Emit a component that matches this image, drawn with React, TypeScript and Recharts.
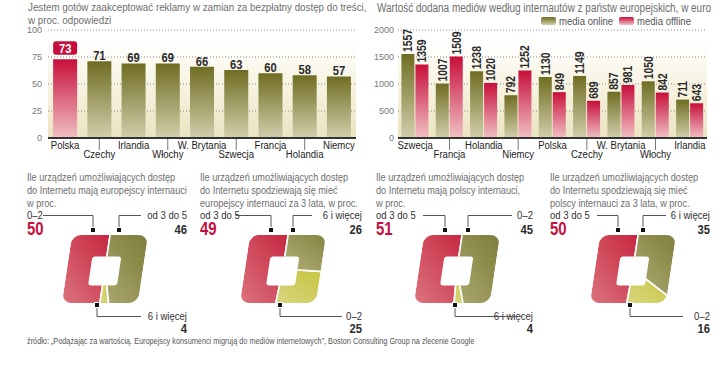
import React from 'react'
import {
  Bar,
  BarChart,
  CartesianGrid,
  Cell,
  LabelList,
  Legend,
  Pie,
  PieChart,
  XAxis,
  YAxis,
} from 'recharts'

const FONT = "'Liberation Sans', Arial, sans-serif"
const SX = 0.83 // zwężenie kroju (imitacja "narrow")

// --- dane: reklamy w zamian za darmowe treści ---
const adCountries = ['Polska', 'Czechy', 'Irlandia', 'Włochy', 'W. Brytania', 'Szwecja', 'Francja', 'Holandia', 'Niemcy']
const adValues = [73, 71, 69, 69, 66, 63, 60, 58, 57]
const pctTicks = [0, 25, 50, 75, 100]
const HIGHLIGHT = 'Polska'

// --- dane: wartość dodana mediów ---
const mediaCountries = ['Szwecja', 'Francja', 'Holandia', 'Niemcy', 'Polska', 'Czechy', 'W. Brytania', 'Włochy', 'Irlandia']
const mediaOnline = [1557, 1007, 1238, 792, 1130, 1149, 857, 1050, 711]
const mediaOffline = [1359, 1509, 1020, 1252, 849, 689, 981, 842, 643]
const euroTicks = [0, 500, 1000, 1500, 2000]
const seriesNames = ['media online', 'media offline']

// --- dane: urządzenia ---
const deviceTitles = [
  ['Ile urządzeń umożliwiających dostęp', 'do Internetu mają europejscy internauci', 'w proc.'],
  ['Ile urządzeń umożliwiających dostęp', 'do Internetu spodziewają się mieć', 'europejscy internauci za 3 lata, w proc.'],
  ['Ile urządzeń umożliwiających dostęp', 'do Internetu mają polscy internauci,', 'w proc.'],
  ['Ile urządzeń umożliwiających dostęp', 'do Internetu spodziewają się mieć', 'polscy internauci za 3 lata, w proc.'],
]
const deviceNames = [
  ['0–2', '6 i więcej', 'od 3 do 5'],
  ['od 3 do 5', '0–2', '6 i więcej'],
  ['od 3 do 5', '6 i więcej', '0–2'],
  ['od 3 do 5', '0–2', '6 i więcej'],
]
const deviceValues = [
  [50, 4, 46],
  [49, 25, 26],
  [51, 4, 45],
  [50, 16, 35],
]

const source =
  'źródło: „Podążając za wartością. Europejscy konsumenci migrują do mediów internetowych”, Boston Consulting Group na zlecenie Google'

// rozmieszczenie paneli (px)
const PANELS = [
  { left: 27, right: 187, cx: 100, mTL: 93, mTR: 119, mB: 97, l0: 43, r1: 141, b1: 141 },
  { left: 200, right: 362, cx: 278, mTL: 271, mTR: 293, mB: 280, l0: 236, r1: 312, b1: 342 },
  { left: 376, right: 533, cx: 452, mTL: 445, mTR: 468, mB: 455, l0: 423, r1: 512, b1: 522 },
  { left: 550, right: 710, cx: 628, mTL: 618, mTR: 643, mB: 630, l0: 597, r1: 666, b1: 683 },
]
const PIE_FILLS = ['url(#pieRed)', 'url(#pieYellow)', 'url(#pieOlive)']

const OUT_W = 76
const OUT_H = 68
const OUT_R = 9
const IN_W = 29
const IN_H = 29
const IN_R = 3
const SKEW = -8.5

function rr(cx: number, cy: number, w: number, h: number, r: number) {
  const x0 = cx - w / 2
  const y0 = cy - h / 2
  const x1 = cx + w / 2
  const y1 = cy + h / 2
  return `M${x0 + r},${y0}H${x1 - r}A${r},${r} 0 0 1 ${x1},${y0 + r}V${y1 - r}A${r},${r} 0 0 1 ${x1 - r},${y1}H${x0 + r}A${r},${r} 0 0 1 ${x0},${y1 - r}V${y0 + r}A${r},${r} 0 0 1 ${x0 + r},${y0}Z`
}

// wycinek "kwadratowego" pierścienia
function SquareSector(props: any) {
  const { cx, cy, startAngle, endAngle, fill } = props
  const id = `ring-${Math.round(cx)}-${Math.round(startAngle * 10)}`
  const R = 56
  const n = Math.max(2, Math.ceil(Math.abs(endAngle - startAngle) / 5))
  const pts = [`${cx},${cy}`]
  for (let i = 0; i <= n; i++) {
    const a = ((startAngle + ((endAngle - startAngle) * i) / n) * Math.PI) / 180
    pts.push(`${cx + R * Math.cos(a)},${cy - R * Math.sin(a)}`)
  }
  const ring = rr(cx, cy, OUT_W, OUT_H, OUT_R) + rr(cx, cy + 2, IN_W, IN_H, IN_R)
  return (
    <g transform={`translate(${cx} ${cy}) skewX(${SKEW}) translate(${-cx} ${-cy})`}>
      <defs>
        <clipPath id={id}>
          <path d={ring} clipRule="evenodd" />
        </clipPath>
      </defs>
      <g clipPath={`url(#${id})`}>
        <polygon points={pts.join(' ')} fill={fill} stroke="#fff" strokeWidth={1.6} strokeLinejoin="round" />
      </g>
    </g>
  )
}

// tekst SVG zwężony w poziomie
function NText({ x, y, rotate, children, ...rest }: any) {
  return (
    <text transform={`translate(${x} ${y})${rotate ? ` rotate(${rotate})` : ''} scale(${SX} 1)`} fontFamily={FONT} {...rest}>
      {children}
    </text>
  )
}

function AltTick(props: any) {
  const { x, y, payload } = props
  const low = payload.index % 2 === 1
  return (
    <g>
      {low && <line x1={x} x2={x} y1={y + 1} y2={y + 12} stroke="#777" strokeWidth={1} />}
      <NText x={x} y={y + (low ? 19.5 : 10.5)} textAnchor="middle" fontSize={11.5} fill="#222">
        {payload.value}
      </NText>
    </g>
  )
}

function AdLabel(props: any) {
  const { x, y, width, value, index } = props
  const cx = x + width / 2
  if (adCountries[index] === HIGHLIGHT) {
    return (
      <g>
        <rect x={cx - 12} y={y - 18} width={24} height={13.5} rx={3} fill="#c60f3c" />
        <NText x={cx} y={y - 6.5} textAnchor="middle" fill="#fff" fontWeight={700} fontSize={13.5}>
          {value}
        </NText>
      </g>
    )
  }
  return (
    <NText x={cx} y={y - 1} textAnchor="middle" fontWeight={700} fontSize={13.5} fill="#2a2a2a">
      {value}
    </NText>
  )
}

function VLabel(props: any) {
  const { x, y, width, value } = props
  return (
    <NText
      x={x + width / 2}
      y={y - 2}
      rotate={-90}
      textAnchor="start"
      dominantBaseline="central"
      fontWeight={700}
      fontSize={12.5}
      fill="#2a2a2a"
    >
      {value}
    </NText>
  )
}

function MediaLegend(props: any) {
  const items = [...(props.payload || [])].sort(
    (a: any, b: any) => seriesNames.indexOf(a.value) - seriesNames.indexOf(b.value),
  )
  return (
    <div
      style={{
        display: 'flex',
        gap: 12,
        width: 178,
        whiteSpace: 'nowrap',
        fontFamily: FONT,
        fontSize: 11.5,
        lineHeight: '12px',
        color: '#555',
      }}
    >
      {items.map((it: any) => (
        <div key={it.value} style={{ display: 'flex', alignItems: 'center', gap: 3 }}>
          <svg width={15} height={8}>
            <rect width={15} height={8} rx={2} fill={it.color} />
          </svg>
          <span style={{ display: 'inline-block', transform: `scaleX(${SX})`, transformOrigin: 'left', width: 48 }}>
            {it.value}
          </span>
        </div>
      ))}
    </div>
  )
}

function Defs() {
  return (
    <svg width={0} height={0} style={{ position: 'absolute' }}>
      <defs>
        <linearGradient id="barOlive" x1="0" y1="0" x2="0" y2="1">
          <stop offset="0" stopColor="#6f6d22" />
          <stop offset="1" stopColor="#d2ceac" />
        </linearGradient>
        <linearGradient id="barRed" x1="0" y1="0" x2="0" y2="1">
          <stop offset="0" stopColor="#c70f3b" />
          <stop offset="1" stopColor="#f1c0c3" />
        </linearGradient>
        <linearGradient id="cream" x1="0" y1="0" x2="0" y2="1">
          <stop offset="0" stopColor="#ffffff" stopOpacity={0} />
          <stop offset="0.35" stopColor="#faf8ec" />
          <stop offset="1" stopColor="#ebe4c0" />
        </linearGradient>
        <linearGradient id="pieRed" x1="0.8" y1="0" x2="0.2" y2="1">
          <stop offset="0" stopColor="#c51f3a" />
          <stop offset="1" stopColor="#e08a8e" />
        </linearGradient>
        <linearGradient id="pieOlive" x1="0.8" y1="0" x2="0.2" y2="1">
          <stop offset="0" stopColor="#73712a" />
          <stop offset="1" stopColor="#aeac74" />
        </linearGradient>
        <linearGradient id="pieYellow" x1="0.8" y1="0" x2="0.2" y2="1">
          <stop offset="0" stopColor="#c6c33a" />
          <stop offset="1" stopColor="#dcdb92" />
        </linearGradient>
      </defs>
    </svg>
  )
}

function box(left: number, top: number, extra: React.CSSProperties = {}, origin = 'left top'): React.CSSProperties {
  return {
    position: 'absolute',
    left,
    top,
    whiteSpace: 'nowrap',
    transform: `scaleX(${SX})`,
    transformOrigin: origin,
    ...extra,
  }
}

const titleText: React.CSSProperties = { fontSize: 11, lineHeight: '12.5px', color: '#6e6e6e' }
const nameText: React.CSSProperties = { fontSize: 11.5, color: '#333', lineHeight: '13px' }
const valText: React.CSSProperties = { fontSize: 13.5, fontWeight: 700, color: '#2a2a2a', lineHeight: '12px' }

export default function App() {
  const adData = adCountries.map((country, i) => ({ country, value: adValues[i] }))
  const mediaData = mediaCountries.map((country, i) => ({
    country,
    online: mediaOnline[i],
    offline: mediaOffline[i],
  }))

  return (
    <div
      style={{
        position: 'absolute',
        left: 0,
        top: 0,
        width: 720,
        height: 365,
        background: '#fff',
        fontFamily: FONT,
        overflow: 'hidden',
      }}
    >
      <Defs />

      {/* lewy górny wykres */}
      <div style={box(28, 1, { ...titleText, fontSize: 11.8 })}>
        Jestem gotów zaakceptować reklamy w zamian za bezpłatny dostęp do treści,
        <br />
        w proc. odpowiedzi
      </div>
      <div style={{ position: 'absolute', left: 0, top: 0 }}>
        <BarChart width={360} height={165} data={adData} margin={{ top: 30, right: 4, left: 0, bottom: 0 }} barCategoryGap="15%">
          <CartesianGrid vertical={false} strokeDasharray="1 2" stroke="#8a8a8a" fill="url(#cream)" />
          <YAxis
            domain={[0, 100]}
            ticks={pctTicks}
            width={48}
            axisLine={false}
            tickLine={false}
            tickSize={0}
            tickMargin={6}
            tick={{ fontSize: 9, fill: '#777', fontFamily: FONT }}
          />
          <XAxis
            dataKey="country"
            interval={0}
            height={27}
            tickLine={false}
            tickSize={0}
            tickMargin={0}
            tick={<AltTick />}
            axisLine={{ stroke: '#333', strokeWidth: 2 }}
          />
          <Bar dataKey="value" isAnimationActive={false}>
            {adData.map((d) => (
              <Cell key={d.country} fill={d.country === HIGHLIGHT ? 'url(#barRed)' : 'url(#barOlive)'} />
            ))}
            <LabelList dataKey="value" content={AdLabel} />
          </Bar>
        </BarChart>
      </div>

      {/* prawy górny wykres */}
      <div style={box(377, 2, { ...titleText, fontSize: 12 })}>
        Wartość dodana mediów według internautów z państw europejskich, w euro
      </div>
      <div style={{ position: 'absolute', left: 360, top: 0 }}>
        <BarChart
          width={360}
          height={165}
          data={mediaData}
          margin={{ top: 30, right: 13, left: 0, bottom: 0 }}
          barCategoryGap="10%"
          barGap={1}
        >
          <CartesianGrid vertical={false} strokeDasharray="1 2" stroke="#8a8a8a" fill="url(#cream)" />
          <YAxis
            domain={[0, 2000]}
            ticks={euroTicks}
            width={38}
            axisLine={false}
            tickLine={false}
            tickSize={0}
            tickMargin={4}
            tick={{ fontSize: 9, fill: '#777', fontFamily: FONT }}
          />
          <XAxis
            dataKey="country"
            interval={0}
            height={27}
            tickLine={false}
            tickSize={0}
            tickMargin={0}
            tick={<AltTick />}
            axisLine={{ stroke: '#333', strokeWidth: 2 }}
          />
          <Legend
            layout="vertical"
            align="center"
            verticalAlign="middle"
            content={MediaLegend}
            wrapperStyle={{ top: 15, left: 181, width: 178, height: 12 }}
          />
          <Bar dataKey="online" name={seriesNames[0]} fill="url(#barOlive)" isAnimationActive={false}>
            <LabelList dataKey="online" content={VLabel} />
          </Bar>
          <Bar dataKey="offline" name={seriesNames[1]} fill="url(#barRed)" isAnimationActive={false}>
            <LabelList dataKey="offline" content={VLabel} />
          </Bar>
        </BarChart>
      </div>

      {/* kwadratowe "pierścienie" */}
      {PANELS.map((p, k) => {
        const data = deviceNames[k].map((name, i) => ({ name, value: deviceValues[k][i] }))
        return (
          <React.Fragment key={k}>
            <div style={box(p.left, 171, { ...titleText, fontSize: 11, lineHeight: '13px' })}>
              {deviceTitles[k].map((t) => (
                <div key={t}>{t}</div>
              ))}
            </div>
            <div style={{ position: 'absolute', left: p.cx - 60, top: 214 }}>
              <PieChart width={120} height={100}>
                <Pie
                  data={data}
                  dataKey="value"
                  nameKey="name"
                  cx={60}
                  cy={50}
                  outerRadius={40}
                  startAngle={90}
                  endAngle={450}
                  stroke="none"
                  isAnimationActive={false}
                  shape={SquareSector}
                  activeShape={SquareSector}
                  inactiveShape={SquareSector}
                >
                  {data.map((d, i) => (
                    <Cell key={d.name} fill={PIE_FILLS[i]} />
                  ))}
                </Pie>
              </PieChart>
            </div>
            {/* opisy */}
            <div style={box(p.left, 208.5, nameText)}>{data[0].name}</div>
            <div style={box(p.left, 219, { fontSize: 18, fontWeight: 700, color: '#c60f3c', lineHeight: '20px' })}>
              {data[0].value}
            </div>
            <div style={box(p.right - 80, 208.5, { ...nameText, width: 80, textAlign: 'right' }, 'right top')}>
              {data[2].name}
            </div>
            <div style={box(p.right - 80, 224, { ...valText, width: 80, textAlign: 'right' }, 'right top')}>
              {data[2].value}
            </div>
            <div style={box(p.right - 80, 309.5, { ...nameText, width: 80, textAlign: 'right' }, 'right top')}>
              {data[1].name}
            </div>
            <div style={box(p.right - 80, 322.5, { ...valText, width: 80, textAlign: 'right' }, 'right top')}>
              {data[1].value}
            </div>
          </React.Fragment>
        )
      })}

      {/* linie odnośników */}
      <svg width={720} height={365} style={{ position: 'absolute', left: 0, top: 0, pointerEvents: 'none' }}>
        {PANELS.map((p, k) => (
          <g key={k} stroke="#555" strokeWidth={1} fill="none">
            <polyline points={`${p.l0},215.5 ${p.mTL},215.5 ${p.mTL},230`} />
            <polyline points={`${p.r1},215.5 ${p.mTR},215.5 ${p.mTR},230`} />
            <polyline points={`${p.b1},316.5 ${p.mB},316.5 ${p.mB},305`} />
            {[
              [p.mTL, 230],
              [p.mTR, 230],
              [p.mB, 305],
            ].map(([mx, my], i) => (
              <rect key={i} x={mx - 2.5} y={my - 2.5} width={5} height={5} fill="#111" stroke="#fff" strokeWidth={1} />
            ))}
          </g>
        ))}
      </svg>

      <div style={box(27, 335.5, { fontSize: 8.8, color: '#555', lineHeight: '10px' })}>{source}</div>
    </div>
  )
}
